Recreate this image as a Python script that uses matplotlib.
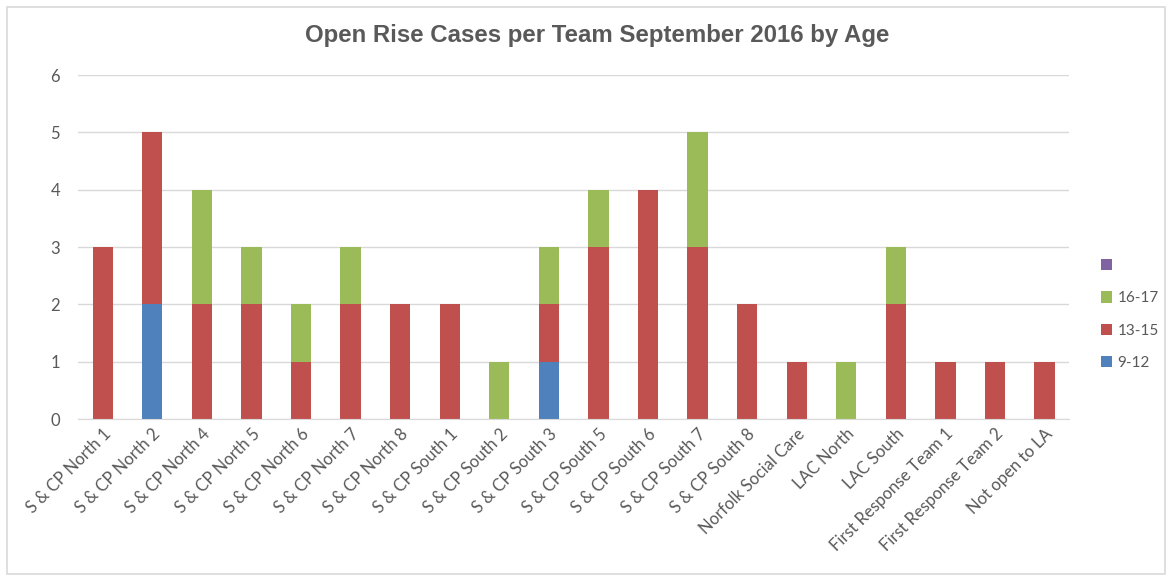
import numpy as np
import matplotlib
matplotlib.use('Agg')
import matplotlib.pyplot as plt
from matplotlib.patches import Rectangle

plt.rcParams['font.family'] = ['Lato', 'DejaVu Sans']

# data
teams = ['S & CP North 1', 'S & CP North 2', 'S & CP North 4', 'S & CP North 5',
         'S & CP North 6', 'S & CP North 7', 'S & CP North 8', 'S & CP South 1',
         'S & CP South 2', 'S & CP South 3', 'S & CP South 5', 'S & CP South 6',
         'S & CP South 7', 'S & CP South 8', 'Norfolk Social Care', 'LAC North',
         'LAC South', 'First Response Team 1', 'First Response Team 2', 'Not open to LA']
age_9_12 = [0, 2, 0, 0, 0, 0, 0, 0, 0, 1, 0, 0, 0, 0, 0, 0, 0, 0, 0, 0]
age_13_15 = [3, 3, 2, 2, 1, 2, 2, 2, 0, 1, 3, 4, 3, 2, 1, 0, 2, 1, 1, 1]
age_16_17 = [0, 0, 2, 1, 1, 1, 0, 0, 1, 1, 1, 0, 2, 0, 0, 1, 1, 0, 0, 0]
age_blank = [0] * 20

text_col = '#595959'
grid_col = '#D9D9D9'

fig = plt.figure(figsize=(11.69, 5.77), dpi=100)
ax = fig.add_axes([0.0667, 0.2738, 0.848, 0.5962])

x = np.arange(len(teams))
w = 0.41
b1 = ax.bar(x, age_9_12, w, color='#4F81BD')
b2 = ax.bar(x, age_13_15, w, bottom=age_9_12, color='#C0504D')
bottom3 = np.array(age_9_12) + np.array(age_13_15)
b3 = ax.bar(x, age_16_17, w, bottom=bottom3, color='#9BBB59')
b4 = ax.bar(x, age_blank, w, bottom=bottom3 + np.array(age_16_17), color='#8064A2')

ax.set_ylim(0, 6)
ax.set_xlim(-0.5, len(teams) - 0.5)
ax.set_yticks(range(7))
ax.yaxis.grid(True, color=grid_col, linewidth=1)
ax.set_axisbelow(True)
for s in ['top', 'right', 'left']:
    ax.spines[s].set_visible(False)
ax.spines['bottom'].set_color(grid_col)
ax.tick_params(length=0, colors=text_col, labelsize=12)
ax.tick_params(axis='y', pad=13)
ax.tick_params(axis='x', pad=5)
ax.set_xticks(x)
ax.set_xticklabels(teams, rotation=45, ha='right', rotation_mode='anchor', fontsize=12)

fig.suptitle('Open Rise Cases per Team September 2016 by Age', x=0.511, y=0.958,
             fontsize=17.3, fontweight='bold', color=text_col, family='Liberation Sans')

ax.legend([b4, b3, b2, b1], [' ', '16-17', '13-15', '9-12'], loc='center left',
          bbox_to_anchor=(0.93, 0.455), bbox_transform=fig.transFigure, frameon=False,
          handlelength=0.75, handleheight=0.75, handletextpad=0.35, labelspacing=1.2,
          fontsize=11, labelcolor=text_col)

fig.patches.append(Rectangle((0.006, 0.006), 0.991, 0.982, transform=fig.transFigure,
                             fill=False, edgecolor=grid_col, linewidth=1.2))

fig.savefig('out.png', dpi=100)
